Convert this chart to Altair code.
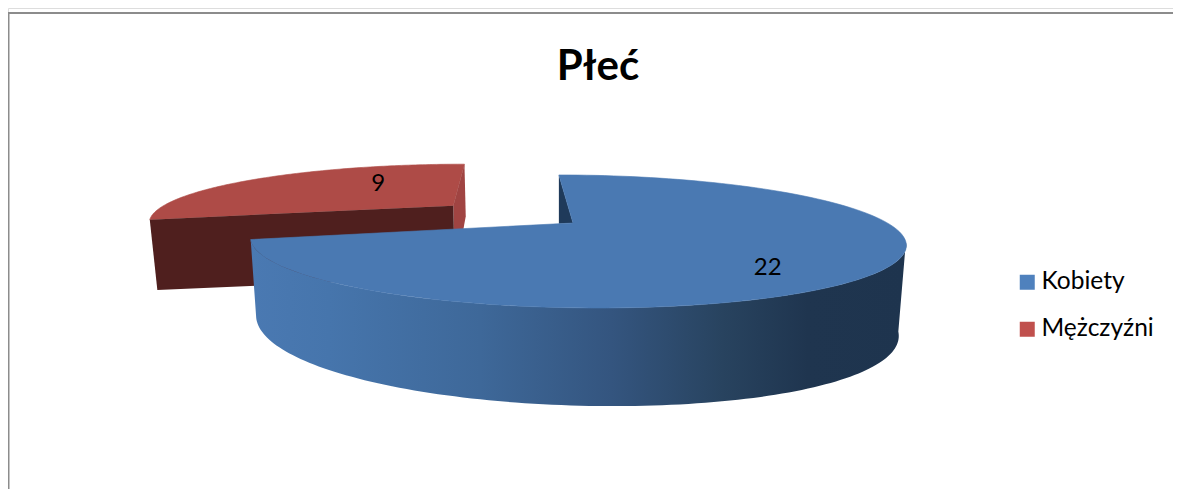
import math
import altair as alt
import pandas as pd

categories = ["Kobiety", "Mężczyźni"]
values = [22, 9]
legend_colors = ["#4f81bd", "#c0504d"]
title_text = "Płeć"

W, H = 1165, 481
X_DOMAIN = [8, 8 + W]
Y_DOMAIN = [8 + H, 8]

# Tilted-pie projection: slice angles come from `values`.
CX, CY, D, FX, SKEW, FY = 573, 223, 3.6, 1132, -65, 221
total = sum(values)
sweep = [v / total * 2 * math.pi for v in values]
blue_a0, blue_a1 = 0.0, sweep[0]
red_a0, red_a1 = sweep[0], 2 * math.pi
red_mid = (red_a0 + red_a1) / 2
EXPLODE = 0.5
du, dv = EXPLODE * math.sin(red_mid), EXPLODE * math.cos(red_mid)


def top(u, v):
    k = D + v
    return CX + (FX * u + SKEW * v) / k, CY - FY * v / k


def bottom(u, v):
    x, y = top(u, v)
    return 577 + (x - 578) * 0.98, y + 79 - 19 * v + 5.5 * u


def rim(a0, a1, fn, ox=0.0, oy=0.0, n=120):
    pts = []
    for i in range(n + 1):
        a = a0 + (a1 - a0) * i / n
        pts.append(fn(ox + math.sin(a), oy + math.cos(a)))
    return pts


blue_top_rim = rim(blue_a0, blue_a1, top)
apex = top(0, 0)
blue_surface = blue_top_rim + [apex]
wall_a0 = math.radians(106.5)
blue_wall = rim(wall_a0, blue_a1, top) + rim(blue_a1, wall_a0, bottom)
s = blue_top_rim[0]
e = blue_top_rim[-1]
cut_y = apex[1] + (e[1] - apex[1]) * (apex[0] - s[0]) / (apex[0] - e[0])
blue_cut = [s, apex, (s[0], cut_y)]

red_surface = rim(red_a0, red_a1, top, du, dv) + [top(du, dv)]
red_start = (du + math.sin(red_a0), dv + math.cos(red_a0))
red_end = (du + math.sin(red_a1), dv + math.cos(red_a1))
red_wall_a = [top(*red_start), top(du, dv), bottom(du, dv), bottom(*red_start)]
red_wall_b = [top(du, dv), top(*red_end), bottom(*red_end), bottom(du, dv)]

x_sc = alt.Scale(domain=X_DOMAIN, zero=False, nice=False)
y_sc = alt.Scale(domain=Y_DOMAIN, zero=False, nice=False)
X = alt.X("x:Q", scale=x_sc, axis=None)
Y = alt.Y("y:Q", scale=y_sc, axis=None)


def poly(points, fill, edge=None):
    df = pd.DataFrame([{"x": p[0], "y": p[1], "i": i} for i, p in enumerate(points + points[:1])])
    if edge:
        mark = alt.Chart(df).mark_line(fill=fill, stroke=edge, strokeWidth=0.6, clip=False)
    else:
        mark = alt.Chart(df).mark_line(fill=fill, strokeWidth=0, clip=False)
    return mark.encode(x=X, y=Y, order="i:Q")


wall_gradient = alt.Gradient(
    gradient="linear", x1=0, x2=1, y1=0, y2=0,
    stops=[
        alt.GradientStop(offset=0.0, color="#4a79b2"),
        alt.GradientStop(offset=0.12, color="#4675ac"),
        alt.GradientStop(offset=0.35, color="#3e6899"),
        alt.GradientStop(offset=0.55, color="#34557f"),
        alt.GradientStop(offset=0.72, color="#28435f"),
        alt.GradientStop(offset=0.85, color="#1f354f"),
        alt.GradientStop(offset=1.0, color="#1e344e"),
    ],
)

frame_df = pd.DataFrame({"x": [8.5, 8.5, 8 + W], "y": [8 + H, 13, 13], "i": [0, 1, 2]})
frame = alt.Chart(frame_df).mark_line(color="#8c8c8c", strokeWidth=2, clip=False).encode(x=X, y=Y, order="i:Q")

blue_label_angle = blue_a0 + sweep[0] / 2
lx, ly = top(0.665 * math.sin(blue_label_angle), 0.665 * math.cos(blue_label_angle))
rx, ry = top(du + 0.36 * math.sin(red_mid), dv + 0.36 * math.cos(red_mid))
label_style = dict(font="Lato", fontSize=24, color="#000000", align="center", baseline="middle")
label_blue = alt.Chart(pd.DataFrame({"x": [lx], "y": [ly], "t": [str(values[0])]})).mark_text(dy=17, **label_style).encode(x=X, y=Y, text="t:N")
label_red = alt.Chart(pd.DataFrame({"x": [rx], "y": [ry], "t": [str(values[1])]})).mark_text(dy=-11, **label_style).encode(x=X, y=Y, text="t:N")

title_layer = alt.Chart(pd.DataFrame({"x": [598], "y": [67], "t": [title_text]})).mark_text(
    font="Lato", fontSize=42, fontWeight="bold", color="#000000", align="center", baseline="middle"
).encode(x=X, y=Y, text="t:N")

legend_layer = alt.Chart(pd.DataFrame({"c": categories, "v": values})).mark_square(size=0, opacity=0).encode(
    color=alt.Color(
        "c:N",
        scale=alt.Scale(domain=categories, range=legend_colors),
        legend=alt.Legend(
            title=None, orient="none", legendX=1007, legendY=262,
            symbolType="square", symbolSize=225, symbolOpacity=1, symbolStrokeWidth=0,
            labelFont="Lato", labelFontSize=24.5, labelColor="#000000", labelOffset=2,
            rowPadding=22, padding=0,
        ),
    )
)

chart = alt.layer(
    frame,
    poly(red_surface, "#ae4b47", "#ae4b47"),
    poly(red_wall_b, "#a04442"),
    poly(red_wall_a, "#4f1f1e"),
    poly(blue_cut, "#1f3a5a"),
    poly(blue_wall, wall_gradient),
    poly(blue_surface, "#4a79b2", "#4a79b2"),
    label_red,
    label_blue,
    title_layer,
    legend_layer,
).properties(
    width=W,
    height=H,
    padding=0,
    autosize=alt.AutoSizeParams(type="none"),
).configure_view(stroke=None).configure(background="#ffffff")

chart.save("out.html", embed_options={"renderer": "svg", "actions": False})
